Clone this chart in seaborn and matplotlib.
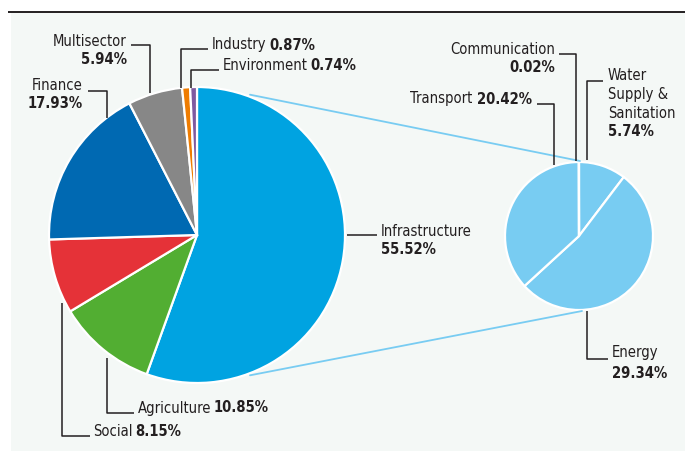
import matplotlib
matplotlib.use("Agg")
import matplotlib.pyplot as plt
import matplotlib.patches as mpatches
from matplotlib import font_manager as fm
import seaborn as sns
import numpy as np

# ---------------- data ----------------
main_labels = ["Infrastructure", "Agriculture", "Social", "Finance",
               "Multisector", "Industry", "Environment"]
main_values = [55.52, 10.85, 8.15, 17.93, 5.94, 0.87, 0.74]
main_colors = ["#00a3e1", "#52ae32", "#e53238", "#0069b2",
               "#878787", "#ef7c00", "#7f5aa0"]

sub_labels = ["Water Supply & Sanitation", "Energy", "Transport", "Communication"]
sub_values = [5.74, 29.34, 20.42, 0.02]
sub_color = "#78ccf2"

# ---------------- style ----------------
sns.set_theme(style="white")

avail = {(f.name, f.stretch) for f in fm.fontManager.ttflist}
names = {n for n, s in avail}
STRETCH = "normal"
if "Liberation Sans Narrow" in names:
    FAM = ["Liberation Sans Narrow", "DejaVu Sans"]; FS = 12.0
elif ("DejaVu Sans", "condensed") in avail:
    FAM = ["DejaVu Sans", "Liberation Sans"]; FS = 10.6; STRETCH = "condensed"
else:
    FAM = ["Liberation Sans", "DejaVu Sans"]; FS = 11.0
plt.rcParams['font.family'] = FAM

W, H = 685, 453
TXT = "#231f20"
LINE = "#231f20"
BG = "#f4f8f6"

def Y(y):
    return H - y

fig = plt.figure(figsize=(W / 100, H / 100), dpi=100)
fig.patch.set_facecolor("white")
ax = fig.add_axes([0, 0, 1, 1])

# ---------------- pies ----------------
mc = (197, Y(235)); mr = 148
sc = (579, Y(236)); sr = 74

ax.pie(main_values, colors=main_colors, startangle=90, counterclock=False,
       center=mc, radius=mr, frame=True,
       wedgeprops=dict(edgecolor="white", linewidth=1.6))
ax.pie(sub_values, colors=[sub_color] * len(sub_values), startangle=90,
       counterclock=False, center=sc, radius=sr, frame=True,
       wedgeprops=dict(edgecolor="white", linewidth=1.6))
ax.set_xlim(0, W)
ax.set_ylim(0, H)
ax.set_aspect("equal")
ax.axis("off")

# background panel and top rule
ax.add_patch(mpatches.Rectangle((11, Y(451)), W - 11, 451 - 12,
                                facecolor=BG, edgecolor="none", zorder=0))
ax.plot([8, W], [Y(11.5), Y(11.5)], color="#231f20", lw=1.4, zorder=1,
        solid_capstyle="butt")

# connector lines
a = np.deg2rad(69.3)
r0 = 150
ax.plot([mc[0] + r0 * np.cos(a), sc[0] + 1], [mc[1] + r0 * np.sin(a), sc[1] + sr + 1],
        color=sub_color, lw=1.3, zorder=3)
ax.plot([mc[0] + r0 * np.cos(-a), sc[0] + 3], [mc[1] + r0 * np.sin(-a), sc[1] - sr - 1],
        color=sub_color, lw=1.3, zorder=3)

fig.canvas.draw()
renderer = fig.canvas.get_renderer()

def leader(pts):
    xs = [p[0] for p in pts]
    ys = [Y(p[1]) for p in pts]
    ax.plot(xs, ys, color=LINE, lw=1.1, zorder=4, solid_capstyle="butt")

def txt(x, y, s, ha="left", bold=False):
    return ax.text(x, Y(y), s, ha=ha, va="center", fontsize=FS, color=TXT,
                   fontstretch=STRETCH,
                   fontweight="bold" if bold else "normal", zorder=5)

def mixed(x, y, normal, bold, ha="left"):
    if ha == "left":
        t = txt(x, y, normal, "left")
        bb = t.get_window_extent(renderer)
        txt(bb.x1 + 2.5, y, bold, "left", True)
    else:
        t = txt(x, y, bold, "right", True)
        bb = t.get_window_extent(renderer)
        txt(bb.x0 - 4.5, y, normal, "right")

# Main pie labels
txt(127, 41, "Multisector", "right")
txt(127, 59, "5.94%", "right", True)
leader([(131, 45), (150, 45), (150, 93)])

txt(83, 86, "Finance", "right")
txt(83, 104, "17.93%", "right", True)
leader([(88, 91), (107, 91), (107, 118)])

mixed(212, 45, "Industry", "0.87%")
leader([(181, 88), (181, 49), (208, 49)])

mixed(223, 65, "Environment", "0.74%")
leader([(191, 88), (191, 70), (219, 70)])

txt(381, 231, "Infrastructure")
txt(381, 250, "55.52%", bold=True)
leader([(347, 235), (377, 235)])

mixed(138, 408, "Agriculture", "10.85%")
leader([(107, 358), (107, 413), (134, 413)])

mixed(93, 432, "Social", "8.15%")
leader([(62.5, 303), (62.5, 436), (90, 436)])

# Sub pie labels
mixed(532, 99, "Transport", "20.42%", ha="right")
leader([(537, 104), (554.5, 104), (554.5, 165)])

txt(555, 50, "Communication", "right")
txt(555, 68, "0.02%", "right", True)
leader([(559, 54), (576.5, 54), (576.5, 161)])

txt(608, 75, "Water")
txt(608, 94, "Supply &")
txt(608, 113, "Sanitation")
txt(608, 132, "5.74%", bold=True)
leader([(603, 81), (587, 81), (587, 160)])

txt(612, 353, "Energy")
txt(612, 373, "29.34%", bold=True)
leader([(587, 311), (587, 359), (608, 359)])

fig.savefig("out.png", dpi=100, facecolor="white")
